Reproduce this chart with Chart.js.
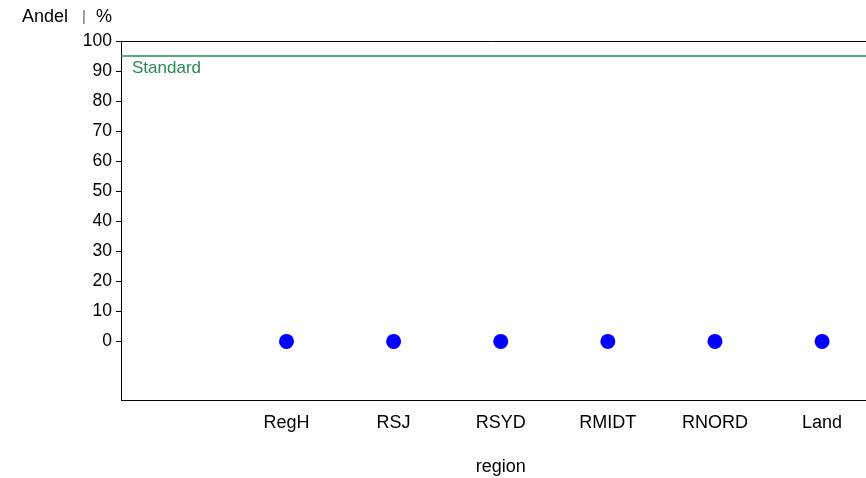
<!DOCTYPE html>
<html>
<head>
<meta charset="utf-8">
<script src="https://cdn.jsdelivr.net/npm/chart.js@4/dist/chart.umd.min.js"></script>
<style>
html,body{margin:0;padding:0;background:#fff;overflow:hidden;}
#wrap{width:866px;height:478px;position:relative;}
</style>
</head>
<body>
<div id="wrap"><canvas id="c" width="866" height="478"></canvas></div>
<script>
const categories = ["RegH", "RSJ", "RSYD", "RMIDT", "RNORD", "Land"];
const andelValues = [0, 0, 0, 0, 0, 0];
const standardValue = 95;
const yTickValues = [0, 10, 20, 30, 40, 50, 60, 70, 80, 90, 100];
const yTitleParts = ["Andel", "|", "%"];
const xTitle = "region";
const standardLabel = "Standard";

const FONT = "'Liberation Sans', Arial, Helvetica, sans-serif";
const GREEN = "#2a8a52";
const X_MIN = -0.545, X_MAX = 6.41;

const textPlugin = {
  id: 'texts',
  afterDraw(chart) {
    const ctx = chart.ctx, ca = chart.chartArea;
    const y = chart.scales.y, x = chart.scales.x;
    ctx.save();
    // top frame line
    ctx.strokeStyle = '#000';
    ctx.lineWidth = 1;
    ctx.beginPath();
    ctx.moveTo(ca.left, Math.round(ca.top) + 0.5);
    ctx.lineTo(ca.right, Math.round(ca.top) + 0.5);
    ctx.stroke();
    // y title
    ctx.fillStyle = '#000';
    ctx.font = "18px " + FONT;
    ctx.textAlign = 'left';
    ctx.textBaseline = 'middle';
    ctx.fillText(yTitleParts[0], 22, 17);
    ctx.fillStyle = '#666';
    ctx.font = "15px " + FONT;
    ctx.fillText(yTitleParts[1], 82, 17);
    ctx.fillStyle = '#000';
    ctx.font = "18px " + FONT;
    ctx.fillText(yTitleParts[2], 96, 17);
    // x title
    ctx.textAlign = 'center';
    ctx.fillText(xTitle, x.getPixelForValue(3), 467);
    // standard label
    ctx.fillStyle = GREEN;
    ctx.font = "17px " + FONT;
    ctx.textAlign = 'left';
    ctx.fillText(standardLabel, ca.left + 11, y.getPixelForValue(standardValue) + 12);
    ctx.restore();
  }
};

new Chart(document.getElementById('c'), {
  type: 'scatter',
  data: {
    datasets: [
      {
        label: 'Andel',
        data: categories.map((c, i) => ({x: i + 1, y: andelValues[i]})),
        backgroundColor: '#0000ff',
        borderColor: '#0000ff',
        pointRadius: 7.5,
        pointBorderWidth: 0,
        order: 1
      },
      {
        label: standardLabel,
        type: 'line',
        data: [{x: X_MIN, y: standardValue}, {x: X_MAX, y: standardValue}],
        borderColor: GREEN,
        borderWidth: 1.5,
        pointRadius: 0,
        order: 2
      }
    ]
  },
  options: {
    responsive: false,
    animation: false,
    layout: {autoPadding: false, padding: {left: 0, right: 0, top: 41, bottom: 0}},
    plugins: {legend: {display: false}, tooltip: {enabled: false}},
    scales: {
      x: {
        type: 'linear',
        min: X_MIN,
        max: X_MAX,
        afterBuildTicks(scale) { scale.ticks = categories.map((c, i) => ({value: i + 1})); },
        afterFit(scale) { scale.height = 78; },
        grid: {display: true, drawOnChartArea: false, drawTicks: false, color: '#000'},
        border: {display: true, color: '#000', width: 1},
        ticks: {
          padding: 12,
          color: '#000',
          font: {size: 18, family: FONT},
          maxRotation: 0,
          autoSkip: false,
          callback: (v) => categories[Math.round(v) - 1] || ''
        }
      },
      y: {
        min: -19.5,
        max: 100,
        afterBuildTicks(scale) { scale.ticks = yTickValues.map(v => ({value: v})); },
        afterFit(scale) { scale.width = 121; },
        grid: {display: true, drawOnChartArea: false, drawTicks: true, tickLength: 5, color: '#000'},
        border: {display: true, color: '#000', width: 1},
        ticks: {
          padding: 4,
          color: '#000',
          font: {size: 17.5, family: FONT},
          callback: (v) => String(v)
        }
      }
    }
  },
  plugins: [textPlugin]
});
</script>
</body>
</html>
